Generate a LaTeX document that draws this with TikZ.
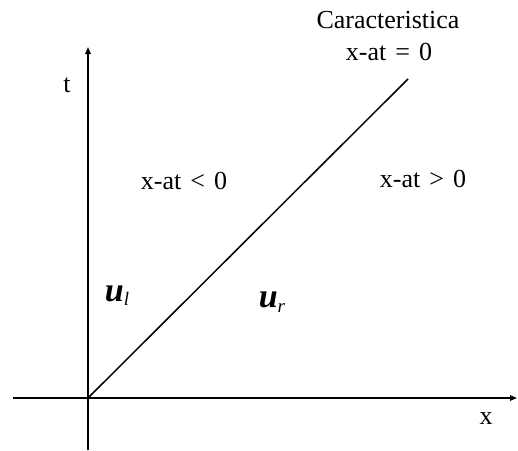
\documentclass[tikz,border=0pt]{standalone}
\usepackage{fontspec}
\setmainfont{Liberation Serif}
\usetikzlibrary{arrows.meta}
\begin{document}
\begin{tikzpicture}[x=1pt,y=-1pt,
  axis/.style={line width=1.5pt,-{Triangle[length=7pt,width=5.5pt]}},
  lbl/.style={inner sep=0pt,font=\fontsize{26}{28}\selectfont},
  ulbl/.style={inner sep=0pt,font=\fontsize{34}{36}\selectfont}]
\useasboundingbox (0,0) rectangle (518,450);
\coordinate (O) at (88,398);
\coordinate (xs) at (13,398);
\coordinate (xe) at (517,398);
\coordinate (ys) at (88,450);
\coordinate (ye) at (88,47);
\coordinate (ce) at (408,79);
\draw[axis] (xs) -- (xe);
\draw[axis] (ys) -- (ye);
\draw[line width=1.5pt] (O) -- (ce);
\node[lbl] (t) at (67,85) {t};
\node[lbl] (x) at (486,419) {x};
\node[lbl] (car) at (388,20) {Caracteristica};
\node[lbl] (c0) at (389,52) {x-at\hspace{0.1em} = \hspace{0.1em}0};
\node[lbl] (lt) at (184,181) {x-at\hspace{0.1em} < \hspace{0.1em}0};
\node[lbl] (gt) at (423,179) {x-at\hspace{0.1em} > \hspace{0.1em}0};
\node[ulbl] (ul) at (117,296) {\textbf{\textit{u}}\raisebox{-0.25ex}{\fontsize{19}{19}\selectfont\textit{l}}};
\node[ulbl] (ur) at (272,302) {\textbf{\textit{u}}\raisebox{-0.35ex}{\fontsize{19}{19}\selectfont\textit{r}}};
\end{tikzpicture}
\end{document}
